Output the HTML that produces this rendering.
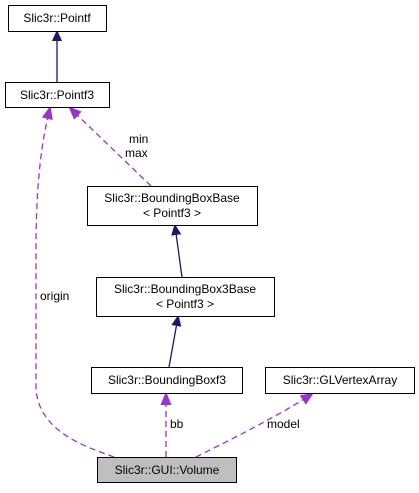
<!DOCTYPE html>
<html><head><style>
body{margin:0;background:#fff;}
svg text{font-family:"Liberation Sans",Arial,sans-serif;font-size:12px;fill:#000;}
</style></head><body>
<svg width="419" height="488" viewBox="0 0 419 488" xmlns="http://www.w3.org/2000/svg">
<defs>
<marker id="nb" markerWidth="10" markerHeight="10" refX="9" refY="5" orient="auto" markerUnits="userSpaceOnUse"><path d="M0,0.5 L10,5 L0,9.5 z" fill="#191970" stroke="#191970"/></marker>
<marker id="pu" markerWidth="12" markerHeight="12" refX="11" refY="6" orient="auto" markerUnits="userSpaceOnUse"><path d="M0,1 L12,6 L0,11 z" fill="#9a32cd" stroke="#9a32cd"/></marker>
</defs>
<g fill="none" stroke-width="1.3">
<line x1="57" y1="82" x2="57" y2="32" stroke="#191970" marker-end="url(#nb)"/>
<line x1="182" y1="277" x2="175" y2="226" stroke="#191970" marker-end="url(#nb)"/>
<line x1="169" y1="367" x2="178" y2="317" stroke="#191970" marker-end="url(#nb)"/>
<g stroke="#9a32cd" stroke-dasharray="6,4">
<line x1="151" y1="186" x2="70" y2="108" marker-end="url(#pu)"/>
<line x1="166" y1="457" x2="166" y2="394" marker-end="url(#pu)"/>
<path d="M196,457 C230,440 280,415 312,394" marker-end="url(#pu)"/>
<path d="M114,457 C80,445 40,430 36,390 L36,250 C36,180 42,140 50,108" marker-end="url(#pu)"/>
</g>
</g>
<g stroke="#000" stroke-width="1" fill="#fff">
<rect x="8.5" y="5.5" width="98" height="26"/>
<rect x="5.5" y="82.5" width="104" height="25"/>
<rect x="87.5" y="186.5" width="170" height="39"/>
<rect x="96.5" y="277.5" width="178" height="39"/>
<rect x="91.5" y="367.5" width="151" height="26"/>
<rect x="265.5" y="367.5" width="149" height="26"/>
<rect x="97.5" y="457.5" width="139" height="25" fill="#bfbfbf"/>
</g>
<g text-anchor="middle">
<text x="57" y="22">Slic3r::Pointf</text>
<text x="57" y="99">Slic3r::Pointf3</text>
<text x="172" y="202">Slic3r::BoundingBoxBase</text>
<text x="172" y="217">&lt; Pointf3 &gt;</text>
<text x="185" y="293">Slic3r::BoundingBox3Base</text>
<text x="185" y="308">&lt; Pointf3 &gt;</text>
<text x="167" y="384">Slic3r::BoundingBoxf3</text>
<text x="340" y="384">Slic3r::GLVertexArray</text>
<text x="167" y="474">Slic3r::GUI::Volume</text>
</g>
<text x="129" y="143">min</text>
<text x="125" y="157">max</text>
<text x="40" y="300">origin</text>
<text x="170" y="428">bb</text>
<text x="267" y="428">model</text>
</svg>
</body></html>
